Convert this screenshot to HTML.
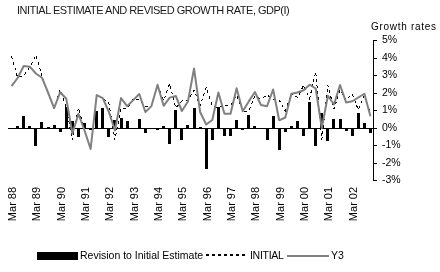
<!DOCTYPE html>
<html><head><meta charset="utf-8"><style>
html,body{margin:0;padding:0;background:#fff;}
body{width:440px;height:272px;position:relative;overflow:hidden;font-family:"Liberation Sans",sans-serif;color:#000;}
.t,.yl,.lg{will-change:transform;}
.t{position:absolute;white-space:nowrap;}
#title{left:17px;top:4px;font-size:11px;letter-spacing:-0.5px;color:#1a1a1a;}
#gr{left:371px;top:21px;font-size:10px;letter-spacing:0.7px;}
.yl{position:absolute;left:382px;font-size:10.5px;line-height:12px;white-space:nowrap;}
.xl{position:absolute;top:198px;width:40px;height:12px;font-size:11px;line-height:12px;text-align:center;transform:rotate(-90deg);white-space:nowrap;}
svg{position:absolute;left:0;top:0;}
.lg{position:absolute;font-size:10.5px;line-height:12px;white-space:nowrap;top:249px;}
</style></head><body>
<div class="t" id="title">INITIAL ESTIMATE AND REVISED GROWTH RATE, GDP(I)</div>
<div class="t" id="gr">Growth rates</div>
<svg width="440" height="272" viewBox="0 0 440 272">
<g fill="#000" shape-rendering="crispEdges">
<rect x="8" y="128" width="365" height="1"/>
<rect x="16.00" y="125.70" width="3.0" height="2.30"/><rect x="22.00" y="115.80" width="3.0" height="12.20"/><rect x="28.00" y="125.70" width="3.0" height="2.30"/><rect x="34.00" y="128.00" width="3.0" height="18.40"/><rect x="40.00" y="121.50" width="3.0" height="6.50"/><rect x="47.00" y="126.50" width="3.0" height="1.50"/><rect x="53.00" y="124.90" width="3.0" height="3.10"/><rect x="59.00" y="128.00" width="3.0" height="4.30"/><rect x="65.00" y="106.70" width="3.0" height="21.30"/><rect x="71.00" y="120.70" width="3.0" height="7.30"/><rect x="77.00" y="128.00" width="3.0" height="9.30"/><rect x="83.00" y="122.90" width="3.0" height="5.10"/><rect x="89.00" y="128.00" width="3.0" height="1.50"/><rect x="95.00" y="111.40" width="3.0" height="16.60"/><rect x="101.00" y="107.80" width="3.0" height="20.20"/><rect x="107.00" y="128.00" width="3.0" height="8.60"/><rect x="113.00" y="119.80" width="3.0" height="8.20"/><rect x="120.00" y="117.50" width="3.0" height="10.50"/><rect x="126.00" y="121.10" width="3.0" height="6.90"/><rect x="138.00" y="118.90" width="3.0" height="9.10"/><rect x="144.00" y="128.00" width="3.0" height="4.50"/><rect x="156.00" y="128.00" width="3.0" height="1.50"/><rect x="162.00" y="126.00" width="3.0" height="2.00"/><rect x="168.00" y="128.00" width="3.0" height="15.75"/><rect x="174.00" y="109.80" width="3.0" height="18.20"/><rect x="180.00" y="128.00" width="3.0" height="11.50"/><rect x="186.00" y="124.50" width="3.0" height="3.50"/><rect x="193.00" y="107.50" width="3.0" height="20.50"/><rect x="199.00" y="126.50" width="3.0" height="1.50"/><rect x="205.00" y="128.00" width="3.0" height="40.70"/><rect x="211.00" y="128.00" width="3.0" height="11.50"/><rect x="217.00" y="107.00" width="3.0" height="21.00"/><rect x="223.00" y="128.00" width="3.0" height="8.25"/><rect x="229.00" y="128.00" width="3.0" height="7.50"/><rect x="235.00" y="119.50" width="3.0" height="8.50"/><rect x="241.00" y="128.00" width="3.0" height="1.50"/><rect x="247.00" y="115.00" width="3.0" height="13.00"/><rect x="253.00" y="125.75" width="3.0" height="2.25"/><rect x="266.00" y="128.00" width="3.0" height="11.50"/><rect x="272.00" y="115.50" width="3.0" height="12.50"/><rect x="278.00" y="128.00" width="3.0" height="21.50"/><rect x="284.00" y="128.00" width="3.0" height="4.00"/><rect x="290.00" y="126.00" width="3.0" height="2.00"/><rect x="296.00" y="120.50" width="3.0" height="7.50"/><rect x="302.00" y="128.00" width="3.0" height="7.70"/><rect x="308.00" y="102.00" width="3.0" height="26.00"/><rect x="314.00" y="128.00" width="3.0" height="17.60"/><rect x="320.00" y="112.70" width="3.0" height="15.30"/><rect x="326.00" y="128.00" width="3.0" height="12.50"/><rect x="332.00" y="118.60" width="3.0" height="9.40"/><rect x="339.00" y="118.70" width="3.0" height="9.30"/><rect x="345.00" y="128.00" width="3.0" height="3.25"/><rect x="351.00" y="128.00" width="3.0" height="8.25"/><rect x="357.00" y="112.50" width="3.0" height="15.50"/><rect x="363.00" y="122.50" width="3.0" height="5.50"/><rect x="369.00" y="128.00" width="3.0" height="4.50"/>
<rect x="373" y="40" width="1" height="141"/>
<rect x="373" y="40" width="4" height="1"/><rect x="373" y="58" width="4" height="1"/><rect x="373" y="75" width="4" height="1"/><rect x="373" y="93" width="4" height="1"/><rect x="373" y="110" width="4" height="1"/><rect x="373" y="128" width="4" height="1"/><rect x="373" y="145" width="4" height="1"/><rect x="373" y="163" width="4" height="1"/><rect x="373" y="180" width="4" height="1"/>
<rect x="37" y="252" width="41" height="8"/>
</g>
<polyline points="11.54,56.00 17.62,77.60 23.71,75.50 29.79,67.00 35.88,55.00 41.96,76.00 48.04,92.50 54.12,108.50 60.21,89.70 66.29,108.00 72.38,140.00 78.46,108.00 84.54,130.50 90.62,149.00 96.71,95.10 102.79,98.10 108.88,103.50 114.96,139.50 121.04,108.00 127.12,108.30 133.21,99.00 139.29,100.10 145.38,107.00 151.46,106.10 157.54,84.80 163.62,100.50 169.71,83.60 175.79,108.00 181.88,101.00 187.96,100.00 194.04,90.00 200.12,106.00 206.21,87.40 212.29,106.20 218.38,107.50 224.46,106.00 230.54,105.50 236.62,95.00 242.71,111.00 248.79,111.30 254.88,96.00 260.96,99.00 267.04,95.00 273.12,99.00 279.21,100.00 285.29,111.00 291.38,93.75 297.46,97.50 303.54,85.50 309.62,98.70 315.71,71.50 321.79,139.50 327.88,85.40 333.96,108.90 340.04,90.00 346.12,100.00 352.21,93.75 358.29,110.00 364.38,95.00 370.46,113.75" fill="none" stroke="#000" stroke-width="1" stroke-dasharray="3 3" shape-rendering="crispEdges"/>
<polyline points="11.54,86.20 17.62,78.00 23.71,66.00 29.79,66.70 35.88,73.50 41.96,77.70 48.04,92.50 54.12,108.20 60.21,92.20 66.29,98.70 72.38,133.50 78.46,114.00 84.54,130.50 90.62,149.00 96.71,95.10 102.79,98.10 108.88,112.00 114.96,130.50 121.04,98.10 127.12,106.20 133.21,100.10 139.29,94.00 145.38,112.00 151.46,106.10 157.54,84.80 163.62,105.80 169.71,97.60 175.79,96.00 181.88,111.00 187.96,101.50 194.04,68.50 200.12,112.00 206.21,124.50 212.29,120.00 218.38,92.50 224.46,113.75 230.54,113.80 236.62,88.20 242.71,111.30 248.79,101.40 254.88,92.00 260.96,105.00 267.04,106.25 273.12,89.50 279.21,120.30 285.29,117.50 291.38,93.75 297.46,92.50 303.54,90.20 309.62,84.70 315.71,88.50 321.79,128.00 327.88,95.80 333.96,104.50 340.04,85.00 346.12,102.50 352.21,101.25 358.29,97.50 364.38,93.75 370.46,116.25" fill="none" stroke="#808080" stroke-width="2" stroke-linejoin="round"/>
<line x1="206" y1="255" x2="248" y2="255" stroke="#000" stroke-width="2" stroke-dasharray="3 3"/>
<line x1="287" y1="256" x2="329" y2="256" stroke="#808080" stroke-width="2"/>
</svg>
<div class="yl" style="top:33.3px">5%</div><div class="yl" style="top:51.3px">4%</div><div class="yl" style="top:68.3px">3%</div><div class="yl" style="top:86.3px">2%</div><div class="yl" style="top:103.3px">1%</div><div class="yl" style="top:121.3px">0%</div><div class="yl" style="top:138.3px">-1%</div><div class="yl" style="top:156.3px">-2%</div><div class="yl" style="top:173.3px">-3%</div>
<div class="xl" style="left:-7.96px">Mar 88</div><div class="xl" style="left:16.38px">Mar 89</div><div class="xl" style="left:40.71px">Mar 90</div><div class="xl" style="left:65.04px">Mar 91</div><div class="xl" style="left:89.38px">Mar 92</div><div class="xl" style="left:113.71px">Mar 93</div><div class="xl" style="left:138.04px">Mar 94</div><div class="xl" style="left:162.38px">Mar 95</div><div class="xl" style="left:186.71px">Mar 96</div><div class="xl" style="left:211.04px">Mar 97</div><div class="xl" style="left:235.38px">Mar 98</div><div class="xl" style="left:259.71px">Mar 99</div><div class="xl" style="left:284.04px">Mar 00</div><div class="xl" style="left:308.38px">Mar 01</div><div class="xl" style="left:332.71px">Mar 02</div>
<div class="lg" style="left:80px">Revision to Initial Estimate</div>
<div class="lg" style="left:250px;letter-spacing:-0.3px">INITIAL</div>
<div class="lg" style="left:331px">Y3</div>
</body></html>
